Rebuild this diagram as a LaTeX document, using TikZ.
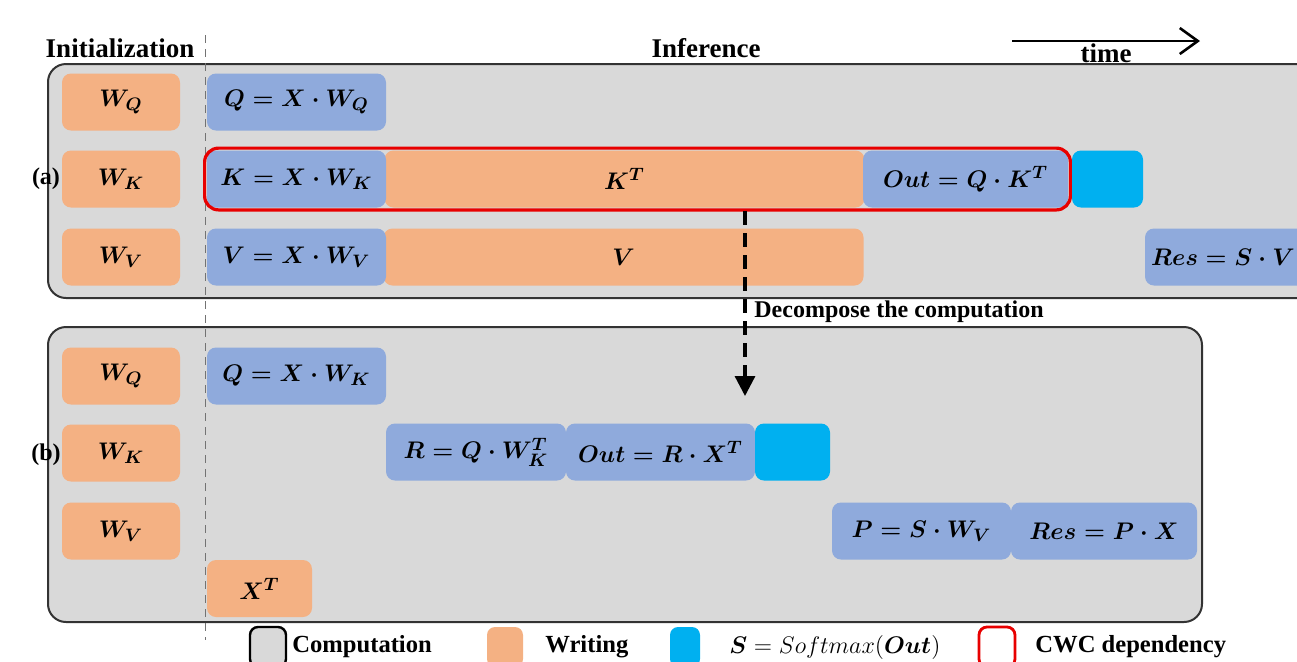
\documentclass[tikz,border=0pt]{standalone}
\usepackage{amsmath}
\usepackage{bm}
\usepackage{fontspec}
\setmainfont{Liberation Serif}
\usetikzlibrary{arrows.meta,fit}
\definecolor{wrt}{RGB}{244,177,131}
\definecolor{cmp}{RGB}{143,170,220}
\definecolor{smx}{RGB}{0,176,240}
\definecolor{pnl}{RGB}{217,217,217}
\definecolor{cwc}{RGB}{232,0,0}
\tikzset{
  x=0.5pt, y=-0.5pt,
  panel/.style={draw=black!80, line width=1pt, fill=pnl, rounded corners=9pt},
  cell/.style={rounded corners=4.5pt, inner sep=0pt, minimum height=28.5pt,
    font=\fontsize{12.5}{15}\selectfont\boldmath},
  wbox/.style={cell, fill=wrt},
  cbox/.style={cell, fill=cmp},
  sbox/.style={cell, fill=smx},
  lbl/.style={font=\fontsize{13.5}{15}\selectfont\bfseries, inner sep=0pt},
  legtxt/.style={font=\fontsize{12.3}{14}\selectfont\bfseries, inner sep=0pt, anchor=west},
  leg/.style={rounded corners=4pt, minimum width=18pt, minimum height=20pt, inner sep=0pt},
}
\begin{document}
\begin{tikzpicture}
\useasboundingbox (0,0) rectangle (1297,661);
\clip (0,0) rectangle (1297,661);
% headers
\node[lbl] (hinit) at (120,48) {Initialization};
\node[lbl] (hinf) at (706,48) {Inference};
\coordinate (ts) at (1012,41);
\coordinate (te) at (1200,41);
\draw[line width=1.3pt, -{Straight Barb[length=9pt,width=13pt,line width=1.3pt]}] (ts) -- (te);
\node[lbl, anchor=north] (htime) at (1106,43) {time};
% panels
\node[panel, minimum width=641pt, minimum height=117pt, inner sep=0pt] (pa) at (689,181) {};
\node[panel, minimum width=577pt, minimum height=147.5pt, inner sep=0pt] (pb) at (625,474.5) {};
% dashed separator
\coordinate (sepT) at (205,35);
\coordinate (sepB) at (205,640);
\draw[black!55, dashed, line width=0.5pt, dash pattern=on 4pt off 3pt] (sepT) -- (sepB);
% panel (a)
\node[wbox, minimum width=59pt] (aWQ) at (121,102) {$W_Q$};
\node[cbox, minimum width=89.5pt] (aQ) at (296.5,102) {$Q = X\cdot W_Q$};
\node[wbox, minimum width=59pt] (aWK) at (121,179) {$W_K$};
\node[wbox, minimum width=240pt] (aKT) at (624.5,179) {$K^T$};
\node[cbox, minimum width=89.5pt] (aK) at (296.5,179) {$K = X\cdot W_K$};
\node[cbox, minimum width=102.5pt] (aOut) at (965.5,179) {$Out = Q\cdot K^T$};
\node[draw=cwc, line width=1.6pt, rounded corners=7pt, inner sep=1pt, fit=(aK)(aOut)] (aRed) {};
\node[sbox, minimum width=35.5pt] (aS) at (1107.5,179) {};
\node[wbox, minimum width=59pt] (aWV) at (121,257) {$W_V$};
\node[wbox, minimum width=240pt] (aVw) at (623.5,257) {$V$};
\node[cbox, minimum width=89.5pt] (aV) at (296.5,257) {$V = X\cdot W_V$};
\node[cbox, minimum width=92pt, text width=86pt, align=left] (aRes) at (1237,257) {$Res = S\cdot V$};
\node[lbl, font=\fontsize{12}{14}\selectfont\bfseries] (la) at (46,179) {(a)};
% decompose arrow
\coordinate (dT) at (745,211);
\coordinate (dB) at (745,396);
\draw[line width=1.6pt, dash pattern=on 7pt off 4pt, -{Triangle[length=10pt,width=10pt]}] (dT) -- (dB);
\node[lbl, font=\fontsize{12}{14}\selectfont\bfseries, anchor=west] (dlab) at (754,312) {Decompose the computation};
% panel (b)
\node[wbox, minimum width=59pt] (bWQ) at (121,376) {$W_Q$};
\node[cbox, minimum width=89.5pt] (bQ) at (296.5,376) {$Q = X\cdot W_K$};
\node[wbox, minimum width=59pt] (bWK) at (121,453) {$W_K$};
\node[cbox, minimum width=90pt] (bR) at (476,452) {$R = Q\cdot W_K^T$};
\node[cbox, minimum width=94.5pt] (bOut) at (660.5,452) {$Out = R\cdot X^T$};
\node[sbox, minimum width=37.5pt] (bS) at (792.5,452) {};
\node[wbox, minimum width=59pt] (bWV) at (121,531) {$W_V$};
\node[cbox, minimum width=89.5pt] (bP) at (921.5,531) {$P = S\cdot W_V$};
\node[cbox, minimum width=93pt] (bRes) at (1104,531) {$Res = P\cdot X$};
\node[wbox, minimum width=52.5pt] (bXT) at (259.5,588.5) {$X^T$};
\node[lbl, font=\fontsize{12}{14}\selectfont\bfseries] (lb) at (46,455) {(b)};
% legend
\node[leg, draw=black, line width=1.2pt, fill=pnl] (lgC) at (268,647) {};
\node[legtxt] (ltC) at (292,647) {Computation};
\node[leg, fill=wrt] (lgW) at (505,647) {};
\node[legtxt] (ltW) at (545,647) {Writing};
\node[leg, fill=smx, minimum width=15pt] (lgS) at (685,647) {};
\node[inner sep=0pt, anchor=west, font=\fontsize{13}{15}\selectfont] (ltS) at (729,647) {$\bm{S} = Softmax(\bm{Out})$};
\node[leg, draw=cwc, line width=1.4pt, fill=white] (lgR) at (997,647) {};
\node[legtxt] (ltR) at (1035,647) {CWC dependency};
\end{tikzpicture}
\end{document}
